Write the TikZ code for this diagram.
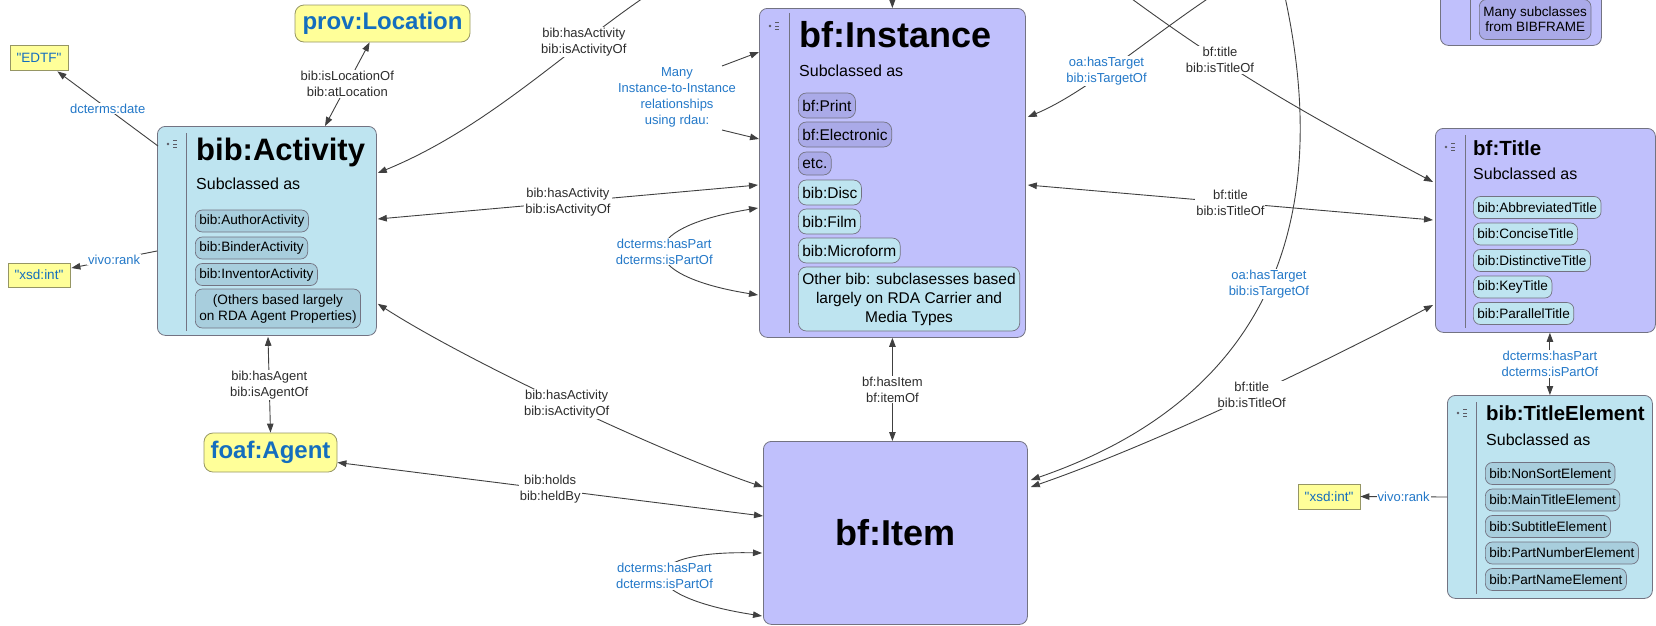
\documentclass[tikz,border=0pt]{standalone}
\usepackage{fontspec}
\setmainfont{Liberation Sans}
\usepackage{tikz}
\usetikzlibrary{positioning,calc,arrows.meta}

\definecolor{lblue}{RGB}{190,228,240}
\definecolor{dblue}{RGB}{168,206,221}
\definecolor{lav}{RGB}{192,192,252}
\definecolor{dlav}{RGB}{170,170,232}
\definecolor{yel}{RGB}{255,255,153}
\definecolor{yelline}{RGB}{150,150,100}
\definecolor{boxline}{RGB}{115,115,130}
\definecolor{edgegray}{RGB}{64,64,64}
\definecolor{labgray}{RGB}{45,45,45}
\definecolor{labblue}{RGB}{35,120,200}
\definecolor{ttlblue}{RGB}{20,110,190}
\definecolor{icongray}{RGB}{90,90,100}

\newcommand{\fsz}[2]{\fontsize{#1}{#2}\selectfont}
\newcommand{\qq}{\textquotedbl}

\tikzset{
	menuicon/.pic={
		\fill[icongray] (-5,0) circle (1.4);
		\foreach \d in {-3.5,0,3.5} \draw[icongray, line width=1pt] (0,\d) -- (3.5,\d);
	}
}

\begin{document}
\begin{tikzpicture}[x=1pt, y=-1pt,
		cls/.style={rectangle, draw=boxline, line width=0.8pt, rounded corners=8pt, anchor=north west, inner sep=0pt},
		sepline/.style={draw=boxline, line width=0.8pt},
		ttlnode/.style={anchor=base west, inner sep=0pt, font=\bfseries#1},
		subnode/.style={anchor=base west, inner sep=0pt, font=\fsz{16}{19}},
		pill/.style={rectangle, draw=boxline, line width=0.7pt, rounded corners=7pt, anchor=west, inner xsep=4pt, inner ysep=0pt, minimum height=22pt, font=\fsz{13.6}{16}},
		ipill/.style={pill, minimum height=25pt, rounded corners=8pt, font=\fsz{15.5}{19}},
		yb/.style={rectangle, draw=yelline, fill=yel, line width=0.8pt, text=ttlblue, inner sep=2pt},
		arr/.style={draw=edgegray, line width=0.9pt, -{Triangle[length=9pt,width=6.5pt]}},
		darr/.style={draw=edgegray, line width=0.9pt, {Triangle[length=9pt,width=6.5pt]}-{Triangle[length=9pt,width=6.5pt]}},
		lab/.style={fill=white, inner sep=1pt, align=center, text=labgray, font=\fsz{13}{16}},
		blab/.style={lab, text=labblue}]
	\useasboundingbox (0,0) rectangle (1656,625);
	\clip (0,0) rectangle (1656,625);
	
	\node [cls, fill=lblue, minimum width=219pt, minimum height=209pt] (act) at (157,126) {};
	\pic at ($(act.north west)+(16,18)$) {menuicon};
	\draw[sepline] ($(act.north west)+(29,7)$) -- ($(act.south west)+(29,-5)$);
	\node [ttlnode=\fsz{31}{36}, shift={(39,34)}] (actT) at (act.north west) {bib:Activity};
	\node [subnode, shift={(39,63)}] (actS) at (act.north west) {Subclassed as};
	\node [pill, fill=dblue, shift={(38,95)}] (actP1) at (act.north west) {bib:AuthorActivity};
	\node [pill, fill=dblue, shift={(38,122)}] (actP2) at (act.north west) {bib:BinderActivity};
	\node [pill, fill=dblue, shift={(38,148.5)}] (actP3) at (act.north west) {bib:InventorActivity};
	\node [pill, fill=dblue, align=center, minimum height=39pt, shift={(38,182.5)}] (actP4) at (act.north west) {(Others based largely\\on RDA Agent Properties)};
	
	\node [cls, fill=lav, minimum width=266pt, minimum height=329pt] (inst) at (759,8) {};
	\pic at ($(inst.north west)+(16,18)$) {menuicon};
	\draw[sepline] ($(inst.north west)+(30,5)$) -- ($(inst.south west)+(30,-5)$);
	\node [ttlnode=\fsz{36}{40}, shift={(40,39)}] (instT) at (inst.north west) {bf:Instance};
	\node [subnode, shift={(40,68)}] (instS) at (inst.north west) {Subclassed as};
	\node [ipill, fill=dlav, shift={(39,97.5)}] (instP1) at (inst.north west) {bf:Print};
	\node [ipill, fill=dlav, shift={(39,126.5)}] (instP2) at (inst.north west) {bf:Electronic};
	\node [ipill, fill=dlav, minimum height=23pt, shift={(39,155.5)}] (instP3) at (inst.north west) {etc.};
	\node [ipill, fill=lblue, shift={(39,184.5)}] (instP4) at (inst.north west) {bib:Disc};
	\node [ipill, fill=lblue, shift={(39,213.5)}] (instP5) at (inst.north west) {bib:Film};
	\node [ipill, fill=lblue, shift={(39,242.5)}] (instP6) at (inst.north west) {bib:Microform};
	\node [ipill, fill=lblue, align=center, minimum height=64pt, shift={(39,291)}] (instP7) at (inst.north west) {Other bib: subclasesses based\\largely on RDA Carrier and\\Media Types};
	
	\node [cls, fill=lav, minimum width=264pt, minimum height=183pt, font=\bfseries\fsz{36}{40}] (itm) at (763,441) {bf:Item};
	
	\node [cls, fill=lav, minimum width=220pt, minimum height=204pt] (ttl) at (1435,128) {};
	\pic at ($(ttl.north west)+(16,19)$) {menuicon};
	\draw[sepline] ($(ttl.north west)+(30,7)$) -- ($(ttl.south west)+(30,-5)$);
	\node [ttlnode=\fsz{20.5}{24}, shift={(38,27)}] (ttlT) at (ttl.north west) {bf:Title};
	\node [subnode, shift={(38,51)}] (ttlS) at (ttl.north west) {Subclassed as};
	\node [pill, fill=lblue, shift={(38,79.5)}] (ttlP1) at (ttl.north west) {bib:AbbreviatedTitle};
	\node [pill, fill=lblue, shift={(38,106)}] (ttlP2) at (ttl.north west) {bib:ConciseTitle};
	\node [pill, fill=lblue, shift={(38,132.5)}] (ttlP3) at (ttl.north west) {bib:DistinctiveTitle};
	\node [pill, fill=lblue, shift={(38,159)}] (ttlP4) at (ttl.north west) {bib:KeyTitle};
	\node [pill, fill=lblue, shift={(38,185.5)}] (ttlP5) at (ttl.north west) {bib:ParallelTitle};
	
	\node [cls, fill=lblue, minimum width=205pt, minimum height=203pt] (tel) at (1447,395) {};
	\pic at ($(tel.north west)+(16,18)$) {menuicon};
	\draw[sepline] ($(tel.north west)+(29,7)$) -- ($(tel.south west)+(29,-5)$);
	\node [ttlnode=\fsz{20.4}{24}, shift={(39,25)}] (telT) at (tel.north west) {bib:TitleElement};
	\node [subnode, shift={(39,50)}] (telS) at (tel.north west) {Subclassed as};
	\node [pill, fill=dblue, shift={(38,78.5)}] (telP1) at (tel.north west) {bib:NonSortElement};
	\node [pill, fill=dblue, shift={(38,105)}] (telP2) at (tel.north west) {bib:MainTitleElement};
	\node [pill, fill=dblue, shift={(38,131.5)}] (telP3) at (tel.north west) {bib:SubtitleElement};
	\node [pill, fill=dblue, shift={(38,158)}] (telP4) at (tel.north west) {bib:PartNumberElement};
	\node [pill, fill=dblue, shift={(38,184.5)}] (telP5) at (tel.north west) {bib:PartNameElement};
	
	\node [cls, fill=lav, minimum width=161pt, minimum height=145pt] (top) at (1440,-100) {};
	\draw[sepline] ($(top.north west)+(30,0)$) -- ($(top.south west)+(30,-6)$);
	\node [pill, fill=dlav, align=center, minimum height=40pt, font=\fsz{13.5}{15}, shift={(39,119.5)}] (topP) at (top.north west) {Many subclasses\\from BIBFRAME};
	
	\node [yb, rounded corners=9pt, minimum width=175pt, minimum height=37pt, font=\bfseries\fsz{24}{28}] (loc) at (382.5,23.5) {prov:Location};
	\node [yb, rounded corners=9pt, minimum width=133pt, minimum height=39pt, font=\bfseries\fsz{24}{28}] (agt) at (270.5,452.5) {foaf:Agent};
	\node [yb, minimum width=58pt, minimum height=25pt, font=\fsz{13.5}{16}] (edtf) at (39,57.5) {\qq EDTF\qq};
	\node [yb, minimum width=62pt, minimum height=24pt, font=\fsz{13.5}{16}] (xa) at (39,275) {\qq xsd:int\qq};
	\node [yb, minimum width=62pt, minimum height=25pt, font=\fsz{13.5}{16}] (xb) at (1329,496.5) {\qq xsd:int\qq};
	
	\node [blab, fill=none] (rdau) at (677,97) {Many\\Instance-to-Instance\\relationships\\using rdau:};
	
	\coordinate (upA) at (658,-12);
	\coordinate (upI) at (892,-20);
	\coordinate (upT) at (1224,-12);
	\coordinate (upTT) at (1117,-12);
	\coordinate (upB) at (1283,-12);
	
	\draw[arr] ($(act.north west)+(1,20)$) -- node[blab] (lDate) {dcterms:date} ($(edtf.south east)+(-11,1)$);
	\draw[darr] ($(act.north west)+(168,0)$) -- node[lab] (lLoc) {bib:isLocationOf\\bib:atLocation} ($(loc.south west)+(75,0)$);
	\draw[darr] (upA) .. controls +(-90,60) and +(110,-45) .. ($(act.north east)+(1,47)$) node[lab, pos=0.28] (lActW) {bib:hasActivity\\bib:isActivityOf};
	\draw[arr] ($(rdau.center)+(45,-31)$) -- ($(inst.north west)+(0,44)$);
	\draw[arr] ($(rdau.center)+(45,33)$) -- ($(inst.north west)+(0,131)$);
	\draw[darr] ($(act.north east)+(1,93)$) -- node[lab] (lActI) {bib:hasActivity\\bib:isActivityOf} ($(inst.north west)+(-1,177)$);
	\draw[darr] ($(inst.north west)+(-1,200)$) .. controls +(-125,20) and +(-125,-20) .. ($(inst.north west)+(-1,287)$) node[blab, midway] (lPartI) {dcterms:hasPart\\dcterms:isPartOf};
	\draw[darr] (inst.south) -- node[lab] (lItem) {bf:hasItem\\bf:itemOf} (inst.south |- itm.north);
	\draw[arr] (upI) -- (inst.north);
	\draw[arr] (upT) .. controls +(-70,45) and +(60,-25) .. ($(inst.north east)+(2,109)$) node[blab, pos=0.58] (lTgtI) {oa:hasTarget\\bib:isTargetOf};
	\draw[arr] (upTT) .. controls +(100,74) and +(-150,-80) .. ($(ttl.north west)+(-2,54)$) node[lab, pos=0.37] (lTtlW) {bf:title\\bib:isTitleOf};
	\draw[darr] ($(inst.north east)+(2,177)$) -- node[lab] (lTtlI) {bf:title\\bib:isTitleOf} ($(ttl.north west)+(-2,92)$);
	\draw[arr] (upB) .. controls +(37,162) and +(290,-100) .. ($(itm.north east)+(3,39)$) node[blab, pos=0.55] (lTgtT) {oa:hasTarget\\bib:isTargetOf};
	\draw[darr] ($(ttl.north west)+(-2,177)$) .. controls +(-100,53) and +(130,-45) .. ($(itm.north east)+(3,46)$) node[lab, pos=0.48] (lTtlT) {bf:title\\bib:isTitleOf};
	\draw[darr] (tel.north) -- node[blab] (lPartT) {dcterms:hasPart\\dcterms:isPartOf} (tel.north |- ttl.south);
	\draw[arr] ($(tel.north west)+(0,102)$) -- node[blab] (lRankT) {vivo:rank} (xb.east);
	\draw[arr] ($(act.north west)+(0,125)$) -- node[blab] (lRankA) {vivo:rank} ($(xa.east)+(1,-7)$);
	\draw[darr] ($(act.south west)+(111,1)$) -- node[lab] (lAgt) {bib:hasAgent\\bib:isAgentOf} (agt.north);
	\draw[darr] ($(act.south east)+(1,-32)$) .. controls +(90,58) and +(-100,-34) .. ($(itm.north west)+(0,46)$) node[lab, midway] (lActT) {bib:hasActivity\\bib:isActivityOf};
	\draw[darr] ($(agt.east)+(0,10)$) -- node[lab] (lHold) {bib:holds\\bib:heldBy} ($(itm.north west)+(0,75)$);
	\draw[darr] ($(itm.north west)+(-1,112)$) .. controls +(-130,-3) and +(-130,-20) .. ($(itm.north west)+(-1,175)$) node[blab, midway] (lPartT2) {dcterms:hasPart\\dcterms:isPartOf};
\end{tikzpicture}
\end{document}
